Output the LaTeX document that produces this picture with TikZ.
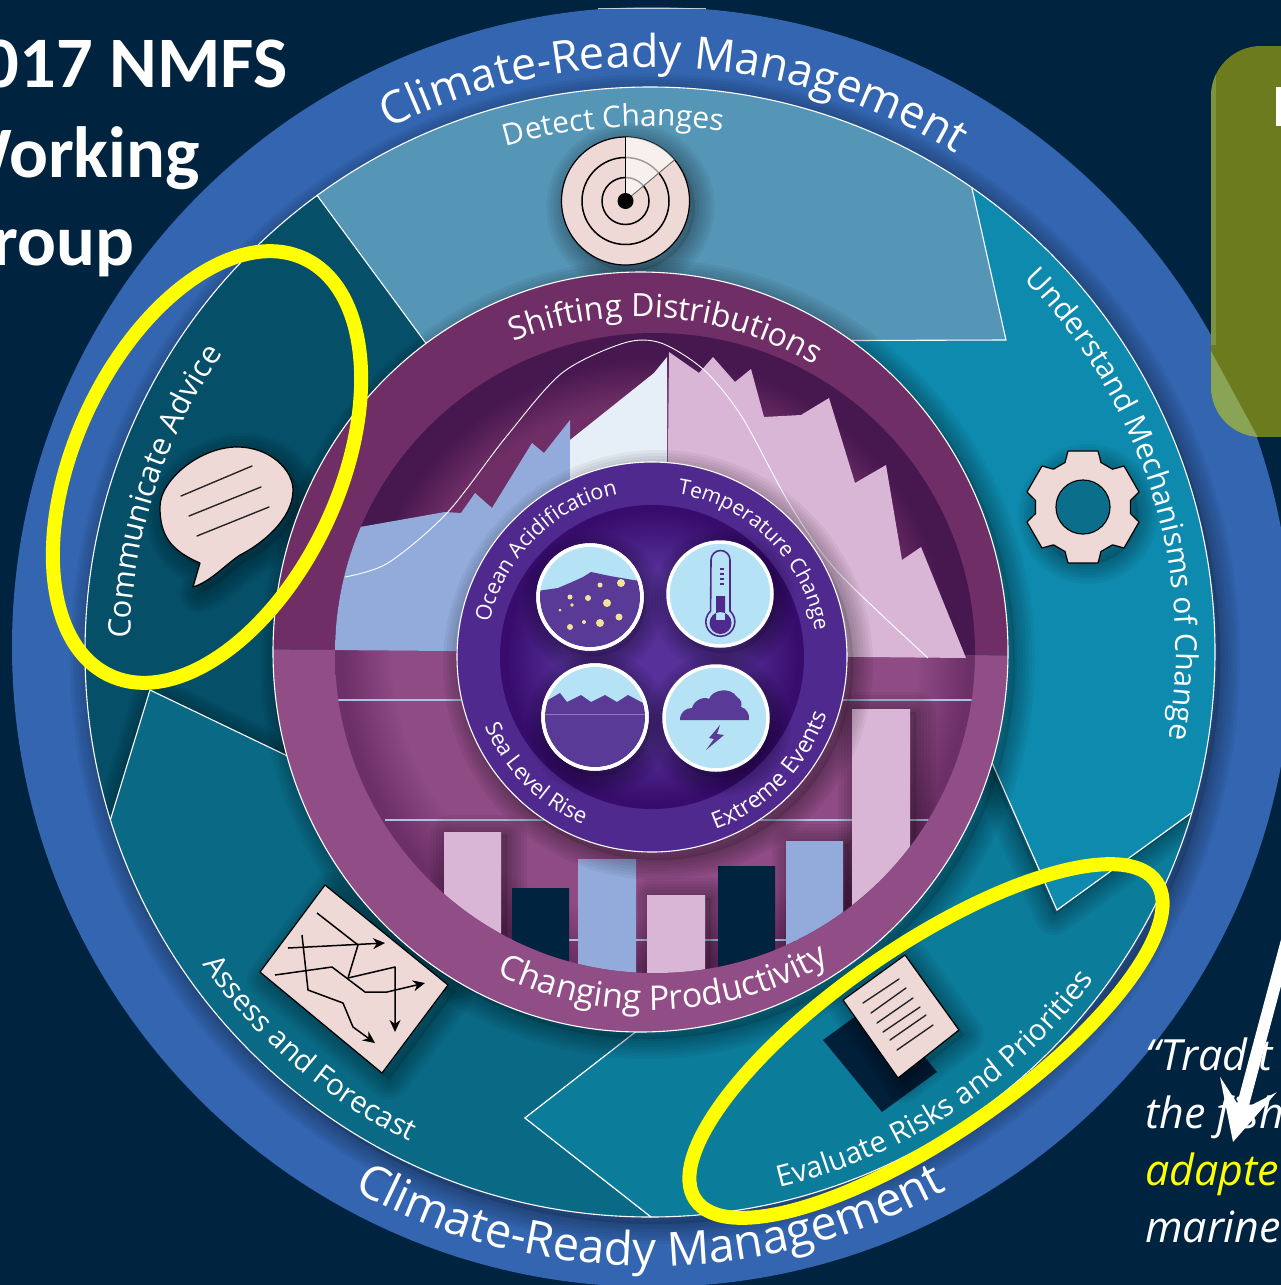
\documentclass[tikz,border=0pt]{standalone}
\usepackage{fontspec}
\setmainfont{Open Sans}
\newfontfamily\slidefont{Carlito}
\usetikzlibrary{decorations.text,arrows.meta}
\definecolor{bgnavy}{HTML}{00233F}
\definecolor{bandblue}{HTML}{3365B0}
\definecolor{commteal}{HTML}{054F68}
\definecolor{assessteal}{HTML}{0A6A85}
\definecolor{evalteal}{HTML}{0C7C9B}
\definecolor{underteal}{HTML}{0E8AAE}
\definecolor{detectteal}{HTML}{5595B5}
\definecolor{ringtop}{HTML}{6F2F66}
\definecolor{ringlow}{HTML}{904D86}
\definecolor{disctopA}{HTML}{6F2F66}
\definecolor{disctopB}{HTML}{47174F}
\definecolor{disclowA}{HTML}{8E4B84}
\definecolor{disclowB}{HTML}{6C2F66}
\definecolor{coreband}{HTML}{50298F}
\definecolor{coreA}{HTML}{57309A}
\definecolor{coreB}{HTML}{370C6C}
\definecolor{waterpurple}{HTML}{5A3A97}
\definecolor{skyblue}{HTML}{B5E3F5}
\definecolor{peakblue}{HTML}{93ABDB}
\definecolor{peakwhite}{HTML}{E6EEF7}
\definecolor{peakpink}{HTML}{D9B5D6}
\definecolor{gridblue}{HTML}{A9C3E6}
\definecolor{iconpink}{HTML}{EFD9D7}
\definecolor{olivebox}{HTML}{6D7B1F}
\definecolor{olivelight}{HTML}{8AA455}
\definecolor{dotyellow}{HTML}{F3E29C}
\definecolor{halo}{HTML}{FFFF00}
\pgfdeclareradialshading{topdisc}{\pgfpoint{0bp}{0bp}}{color(0bp)=(disctopA);color(19.5bp)=(disctopA);color(23bp)=(disctopB);color(50bp)=(disctopB)}
\pgfdeclareradialshading{lowdisc}{\pgfpoint{0bp}{0bp}}{color(0bp)=(disclowA);color(20.5bp)=(disclowA);color(24.5bp)=(disclowB);color(50bp)=(disclowB)}
\pgfdeclareradialshading{coredisc}{\pgfpoint{0bp}{0bp}}{color(0bp)=(coreA);color(14bp)=(coreA);color(24bp)=(coreB);color(50bp)=(coreB)}
\tikzset{
  thinwhite/.style={draw=white,line width=1.1pt},
  iconbody/.style={fill=iconpink,draw=black,line width=1.2pt,line join=round},
  iconline/.style={draw=black!85,line width=1.4pt,line cap=round},
  chartline/.style={draw=black,line width=1.5pt,line join=round,-{Stealth[length=12pt,width=11pt]}},
  halostroke/.style={draw=halo,line width=14pt},
  slidetitle/.style={text=white,anchor=base west,inner sep=0pt,font=\slidefont\bfseries\fontsize{72.5}{72.5}\selectfont},
  quoteline/.style={text=white,anchor=base west,inner sep=0pt,font=\itshape\fontsize{43}{43}\selectfont},
  bubbledisc/.style={fill=skyblue,draw=white,line width=3.5pt},
}
% soft shadow: #1 = x offset, #2 = y offset (down), #3 = path, drawn with layered wide strokes
\newcommand\softsh[3]{\begin{scope}[xshift=#1pt,yshift=-#2pt]
  \foreach \w in {4,10,16,22,28,34,40}{\path[draw=black,opacity=.045,line width=\w pt,line join=round] #3;}
  \path[fill=black,opacity=.12] #3;
\end{scope}}
% #1 size, #2 centre, #3 radius, #4 start, #5 end, #6 text
\newcommand\arclabel[6]{\path[decorate,decoration={text along path,text align=center,text color=white,
   text={|\fontsize{#1}{#1}\selectfont|#6}}] (#2) ++(#4:#3) arc[start angle=#4,end angle=#5,radius=#3];}
\begin{document}
\begin{tikzpicture}[x=1pt,y=-1pt]
\path[use as bounding box,clip] (0,0) rectangle (1281,1285);
\fill[bgnavy] (0,0) rectangle (1281,1285);
% outer band
\fill[bandblue] (652,647) circle[radius=640];
\draw[white,opacity=.7,line width=1.2pt] (598,8.5) -- (706,8.5);
\begin{scope}
  \clip (652,647) circle[radius=640];
  \softsh{5}{7}{(650,652) circle[radius=565]}
\end{scope}
% the process ring
\begin{scope}
  \clip (650,652) circle[radius=565];
  \fill[commteal] (0,0) rectangle (1281,1285);
  \softsh{3}{5}{(150,690) -- (400,810) -- (660,1013) -- (525,1118) -- (660,1224) -- (700,1300) -- (0,1300) -- (60,985) -- cycle}
  \path[fill=assessteal,thinwhite] (150,690) -- (400,810) -- (660,1013) -- (525,1118) -- (660,1224) -- (700,1300) -- (0,1300) -- (60,985) -- cycle;
  \path[fill=evalteal,thinwhite] (660,1013) -- (525,1118) -- (660,1224) -- (700,1300) -- (1281,1300) -- (1281,748) -- (1057,910) -- (960,690) -- (800,800) -- cycle;
  \softsh{-3}{5}{(960,690) -- (1057,910) -- (1281,748) -- (1281,-10) -- (700,-10) -- (700,400) -- cycle}
  \path[fill=underteal,thinwhite] (960,690) -- (1057,910) -- (1281,748) -- (1281,-10) -- (700,-10) -- (700,400) -- cycle;
  \path[fill=detectteal,thinwhite] (280,145) -- (280,-10) -- (960,-10) -- (960,135) -- (1006,340) -- (700,341) -- (450,376) -- cycle;
\end{scope}
\draw[thinwhite] (650,652) circle[radius=565];
% shadow of the centre wheel
\begin{scope}
  \clip (650,652) circle[radius=565];
  \softsh{7}{7}{(640.5,652) ellipse[x radius=367.5,y radius=380]}
\end{scope}
% ring labels
\arclabel{45}{650,650}{583}{236}{309}{Climate-Ready Management}
\arclabel{47}{650,650}{616}{127}{53}{Climate-Ready Management}
\arclabel{30}{650,650}{524}{246}{286}{Detect Changes}
\arclabel{30}{650,650}{526}{309.5}{375.5}{Understand Mechanisms of Change}
\arclabel{29.5}{650,650}{553}{85}{28}{Evaluate Risks and Priorities}
\arclabel{29.5}{650,650}{547}{153}{108}{Assess and Forecast}
\arclabel{31}{650,650}{520}{174}{222}{Communicate Advice}
% icons in the ring
\softsh{5}{6}{(625.5,201) circle[radius=64]}
\path[iconbody] (625.5,201) circle[radius=64];
\draw[black,line width=1.5pt] (625.5,201) circle[radius=43.5] (625.5,201) circle[radius=23.5];
\fill[white,opacity=.62] (625.5,201) -- ++(270:64) arc[start angle=270,end angle=320,radius=64] -- cycle;
\draw[black,line width=.9pt] (625.5,201) -- (625.5,137);
\draw[black!60,line width=.9pt] (625.5,201) -- ++(320:64);
\fill[black] (625.5,201) circle[radius=8];
% gear
\softsh{5}{7}{(1083,507) circle[radius=50]}
\path[iconbody] (1083,507) ++(68:48) \foreach \a in {90,150,...,420}{ -- ([shift={(1083,507)}]\a-22:48) -- ([shift={(1083,507)}]\a-15:58) -- ([shift={(1083,507)}]\a+15:58) -- ([shift={(1083,507)}]\a+22:48)} -- cycle;
\path[fill=underteal,draw=black,line width=1.2pt] (1083,507) circle[radius=27];
\fill[black,opacity=.2] (1083,507) circle[radius=26];
% speech bubble
\softsh{6}{6}{(193,587) -- (200,563) .. controls (170,550) and (160,535) .. (160,507) .. controls (160,480) and (200,447) .. (237,447) .. controls (270,447) and (293,470) .. (293,490) .. controls (293,520) and (260,545) .. (240,555) .. controls (225,565) and (210,582) .. (193,587) -- cycle}
\path[iconbody] (193,587) -- (200,563) .. controls (170,550) and (160,535) .. (160,507) .. controls (160,480) and (200,447) .. (237,447) .. controls (270,447) and (293,470) .. (293,490) .. controls (293,520) and (260,545) .. (240,555) .. controls (225,565) and (210,582) .. (193,587) -- cycle;
\draw[iconline] (181,496) -- (252,466) (189,516) -- (261,487) (197,536) -- (269,507);
% chart
\softsh{7}{7}{(325,885) -- (448,985) -- (382,1073) -- (260,972) -- cycle}
\path[iconbody] (325,885) -- (448,985) -- (382,1073) -- (260,972) -- cycle;
\draw[chartline] (317,913) -- (358,945) -- (348,978) -- (395,967) -- (395,1032);
\draw[chartline] (288,948) -- (385,943);
\draw[chartline] (302,935) -- (308,990) -- (343,1003) -- (353,1027) -- (375,1043);
\draw[chartline] (275,975) -- (332,967) -- (365,992) -- (387,992) -- (425,983);
% report
\fill[bgnavy!92!black] (823,1040) -- (878,1000) -- (937,1072) -- (882,1112) -- cycle;
\softsh{5}{5}{(905,955) -- (959,1030) -- (898,1078) -- (843,1000) -- cycle}
\path[iconbody] (905,955) -- (959,1030) -- (898,1078) -- (843,1000) -- cycle;
\draw[iconline] (863,1003) -- (899,979) (871,1013) -- (906,988) (877,1023) -- (913,998) (883,1032) -- (920,1007) (890,1040) -- (926,1015) (897,1050) -- (933,1025);
% centre wheel: band
\begin{scope}
  \clip (0,0) -- (1281,0) -- (1281,658) -- (0,647) -- cycle;
  \fill[ringtop] (640.5,652) ellipse[x radius=367.5,y radius=380];
\end{scope}
\begin{scope}
  \clip (0,1285) -- (1281,1285) -- (1281,658) -- (0,647) -- cycle;
  \fill[ringlow] (640.5,652) ellipse[x radius=367.5,y radius=380];
\end{scope}
\draw[thinwhite] (640.5,652) ellipse[x radius=367.5,y radius=380];
% centre wheel: recessed disc
\begin{scope}
  \clip (655,653) circle[radius=320];
  \begin{scope}
    \clip (0,0) -- (1281,0) -- (1281,658) -- (0,647) -- cycle;
    \shade[shading=topdisc] (655,653) circle[radius=320];
  \end{scope}
  \begin{scope}
    \clip (0,1285) -- (1281,1285) -- (1281,658) -- (0,647) -- cycle;
    \shade[shading=lowdisc] (655,653) circle[radius=320];
  \end{scope}
  % grid lines
  \draw[gridblue,line width=1.4pt] (335,700) -- (972,700) (385,820) -- (930,820) (550,940) -- (800,940);
  % bars
  \softsh{6}{3}{(852,709) rectangle (910,1000)}
  \softsh{6}{3}{(786,841) rectangle (843,1000)}
  \softsh{6}{3}{(444,832) rectangle (501,1000)}
  \softsh{6}{3}{(647,895) rectangle (705,1000)}
  \fill[peakpink] (444,832) rectangle (501,1000) (647,895) rectangle (705,1000) (852,709) rectangle (910,1000);
  \fill[bgnavy] (512,888) rectangle (569,1000) (718,866) rectangle (775,1000);
  \fill[peakblue] (578,859) rectangle (636,1000) (786,841) rectangle (843,1000);
  % shifting distribution silhouettes
  \fill[peakblue] (330,650) -- (330,533) -- (360,527) -- (445,512) -- (461,513) -- (475,493) -- (492,508) -- (532,443) -- (544,453) -- (570,420) -- (570,652) -- cycle;
  \fill[peakwhite] (570,440) -- (654,373) -- (667,357) -- (667,655) -- (570,652) -- cycle;
  \fill[peakpink] (666,655) -- (669,352) -- (699,373) -- (713,357) -- (735,382) -- (751,369) -- (764,417) -- (801,415) -- (829,398) -- (855,483) -- (886,465) -- (902,560) -- (921,547) -- (966,658) -- cycle;
  \draw[white,line width=.9pt] plot[smooth] coordinates {(345,577) (388,563) (447,513) (506,437) (562,373) (624,343) (661,343) (704,370) (742,417) (789,503) (836,570) (928,658)};
\end{scope}
\arclabel{32}{640,655}{338}{238}{311}{Shifting Distributions}
\arclabel{34}{652,655}{355}{126}{50}{Changing Productivity}
% centre wheel: core
\begin{scope}
  \clip (655,653) circle[radius=320];
  \softsh{6}{8}{(652,657) circle[radius=195]}
\end{scope}
\path[fill=coreband,thinwhite] (652,657) circle[radius=195];
\shade[shading=coredisc] (652,657) circle[radius=152];
\arclabel{21.5}{652,657}{166}{182}{268}{Ocean Acidification}
\arclabel{21}{652,657}{165}{270}{360}{Temperature Change}
\arclabel{22}{652,657}{181}{170}{100}{Sea Level Rise}
\arclabel{23}{652,657}{184}{80}{8}{Extreme Events}
% four climate discs
\softsh{3}{7}{(590,597) circle[radius=52]}
\softsh{3}{7}{(720,594) circle[radius=52]}
\softsh{3}{7}{(595,717) circle[radius=52]}
\softsh{3}{7}{(716,718) circle[radius=52]}
\path[bubbledisc] (590,597) circle[radius=52];
\begin{scope}
  \clip (590,597) circle[radius=50];
  \fill[waterpurple] (530,592) -- (544,590) -- (558,588) -- (572,582) -- (583,577) -- (591,572) -- (610,576) -- (633,580) -- (650,582) -- (650,660) -- (530,660) -- cycle;
  \fill[dotyellow] (588,598) circle[radius=3] (607,603) circle[radius=4] (621,583) circle[radius=4] (600,585) circle[radius=2.5] (570,597) circle[radius=2.5] (600,623) circle[radius=4] (619,617) circle[radius=3.5] (570,627) circle[radius=3] (584,622) circle[radius=2] (560,610) circle[radius=1.5] (572,605) circle[radius=1.8];
\end{scope}
\path[draw=white,line width=3.5pt] (590,597) circle[radius=52];
\path[bubbledisc] (720,594) circle[radius=52];
\path[draw=coreband,line width=1.6pt,fill=skyblue] (711,560) arc[start angle=180,end angle=360,radius=9.5] -- (730,611) arc[start angle=-48,end angle=228,radius=14.5] -- cycle;
\fill[coreband] (716,596) rectangle (725,620) (720.5,623) circle[radius=11];
\draw[coreband,line width=1.2pt] (720,569) -- (724,569) (720,574) -- (724,574) (720,579) -- (724,579) (720,584) -- (724,584);
\path[bubbledisc] (595,717) circle[radius=52];
\begin{scope}
  \clip (595,717) circle[radius=50];
  \fill[waterpurple] (530,703) -- (548,700) -- (560,693) -- (567,702) -- (581,695) -- (591,702) -- (605,695) -- (617,702) -- (628,695) -- (643,703) -- (660,703) -- (660,780) -- (530,780) -- cycle;
  \draw[peakpink,opacity=.5,line width=.8pt] (540,714) -- (650,714);
\end{scope}
\path[draw=white,line width=3.5pt] (595,717) circle[radius=52];
\path[bubbledisc] (716,718) circle[radius=52];
\fill[waterpurple] (680,720) .. controls (680,712) and (686,708) .. (692,708) .. controls (694,700) and (704,696) .. (709,699) .. controls (712,690) and (730,686) .. (737,697) .. controls (742,700) and (742,704) .. (741,707) .. controls (746,708) and (750,714) .. (749,720) -- cycle;
\fill[waterpurple] (720,725) -- (709,738) -- (714,739) -- (706,750) -- (724,735) -- (717,734) -- cycle;
% slide material
\node[slidetitle] (titleA) at (-54,87) {2017 NMFS};
\node[slidetitle] (titleB) at (-54,177) {Working};
\node[slidetitle] (titleC) at (-54,265) {Group};
\begin{scope}
  \clip[rounded corners=50pt] (1211,46) rectangle (1340,437);
  \fill[olivebox] (1211,46) rectangle (1340,437);
  \fill[olivelight,opacity=.6] (1211,70) rectangle (1216,345);
  \fill[olivelight] (1205,340) -- (1262,445) -- (1205,445) -- cycle;
\end{scope}
\fill[white] (1276,87) rectangle (1282,126);
\node[quoteline] (quoteA) at (1145,1070) {“Tradit};
\node[quoteline] (quoteB) at (1145,1128) {the fish};
\node[quoteline,text=halo] (quoteC) at (1145,1185) {adapte};
\node[quoteline] (quoteD) at (1145,1242) {marine};
\coordinate (arrowfrom) at (1297,903);
\coordinate (arrowto) at (1233,1142);
\draw[white,line width=12pt,-{Stealth[length=59pt,width=58pt,inset=26pt]}] (arrowfrom) -- (arrowto);
% highlight rings
\draw[halostroke,rotate around={65:(207,467)}] (207,467) ellipse[x radius=230,y radius=132];
\draw[halostroke,rotate around={34.6:(926,1041)}] (926,1041) ellipse[x radius=280,y radius=94];
\end{tikzpicture}
\end{document}
